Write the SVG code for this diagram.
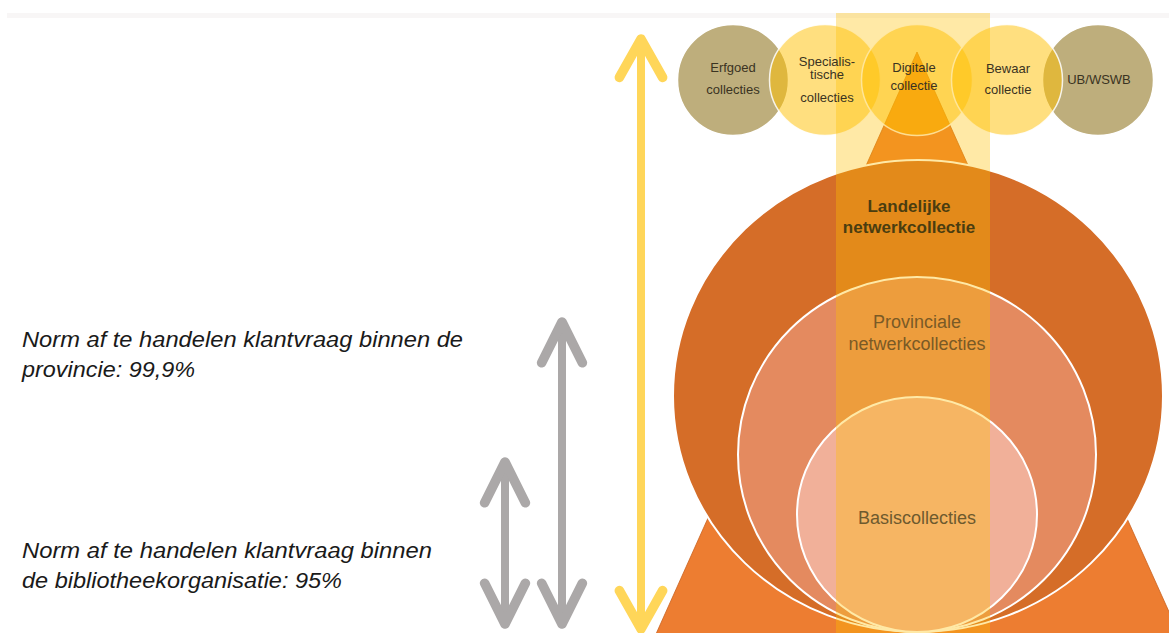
<svg xmlns="http://www.w3.org/2000/svg" width="1169" height="633" viewBox="0 0 1169 633">
  <style>
    .lbl { font-family: "Liberation Sans", Arial, sans-serif; text-anchor: middle; }
    .small { font-size: 13px; fill: #3a3322; }
    .norm { font-family: "Liberation Sans", Arial, sans-serif; font-style: italic; font-size: 22px; fill: #1a1a1a; }
    .olive { fill: #BEAE7C; stroke: #ffffff; stroke-width: 1.5; }
    .yel { fill: #FFC000; fill-opacity: 0.5; stroke: #ffffff; stroke-opacity: 0.85; stroke-width: 1.5; }
    .ring { stroke: #ffffff; stroke-width: 2; }
  </style>
  <defs>
    <marker id="headY" markerUnits="userSpaceOnUse" orient="auto-start-reverse" refX="0" refY="0" markerWidth="60" markerHeight="60" viewBox="-40 -25 50 50" overflow="visible">
      <path d="M-32,-18 L0,0 L-32,18" fill="none" stroke="#FFD659" stroke-width="8" stroke-linecap="round" stroke-linejoin="round"/>
    </marker>
    <marker id="headG" markerUnits="userSpaceOnUse" orient="auto-start-reverse" refX="0" refY="0" markerWidth="60" markerHeight="60" viewBox="-40 -25 50 50" overflow="visible">
      <path d="M-34,-17 L0,0 L-34,17" fill="none" stroke="#ABA8A8" stroke-width="8" stroke-linecap="round" stroke-linejoin="round"/>
    </marker>
  </defs>
  <rect x="0" y="0" width="1169" height="633" fill="#ffffff"/>
  <rect x="7" y="13" width="1162" height="5" fill="#F8F6F6"/>

  <g id="triangle">
    <polygon points="917,52 656,634 1179,634" fill="#ED7D31" stroke="#C9621F" stroke-width="0.8"/>
  </g>
  <g id="landelijke">
    <ellipse cx="918" cy="396" rx="245" ry="236" fill="#D56D28" class="ring"/>
  </g>
  <g id="provinciale">
    <ellipse cx="917" cy="454.5" rx="179" ry="177.5" fill="#E48A5F" class="ring"/>
  </g>
  <g id="basis">
    <ellipse cx="917" cy="514.5" rx="120" ry="117.5" fill="#F1B099" class="ring"/>
  </g>

  <g id="erfgoed"><circle cx="733" cy="80" r="55.5" class="olive"/></g>
  <g id="ubwswb"><circle cx="1098" cy="80" r="55.5" class="olive"/></g>
  <g id="specialistische"><circle cx="825" cy="80" r="55.5" class="yel"/></g>
  <g id="digitale"><circle cx="917" cy="80" r="55.5" class="yel"/></g>
  <g id="bewaar"><circle cx="1007" cy="80" r="55.5" class="yel"/></g>

  <g id="band">
    <rect x="836" y="13" width="154" height="620" fill="#FFC000" fill-opacity="0.35"/>
  </g>

  <g id="labels">
    <text class="lbl small" x="733" y="72">Erfgoed</text>
    <text class="lbl small" x="733" y="94">collecties</text>
    <text class="lbl small" x="827" y="66">Specialis-</text>
    <text class="lbl small" x="827" y="79">tische</text>
    <text class="lbl small" x="827" y="102">collecties</text>
    <text class="lbl small" x="914" y="72">Digitale</text>
    <text class="lbl small" x="914" y="90">collectie</text>
    <text class="lbl small" x="1008" y="73">Bewaar</text>
    <text class="lbl small" x="1008" y="94">collectie</text>
    <text class="lbl small" x="1099" y="84">UB/WSWB</text>
    <text class="lbl" x="909" y="212" font-size="17" font-weight="bold" fill="#4A3D10">Landelijke</text>
    <text class="lbl" x="909" y="233" font-size="17" font-weight="bold" fill="#4A3D10">netwerkcollectie</text>
    <text class="lbl" x="917" y="328" font-size="18" fill="#7A5A26">Provinciale</text>
    <text class="lbl" x="917" y="350" font-size="18" fill="#7A5A26">netwerkcollecties</text>
    <text class="lbl" x="917" y="524" font-size="18" fill="#6E5A2E">Basiscollecties</text>
  </g>

  <g id="norm-provincie">
    <text class="norm" x="22" y="347" textLength="441" lengthAdjust="spacingAndGlyphs">Norm af te handelen klantvraag binnen de</text>
    <text class="norm" x="22" y="377" textLength="173" lengthAdjust="spacingAndGlyphs">provincie: 99,9%</text>
  </g>
  <g id="norm-bibliotheek">
    <text class="norm" x="22" y="558" textLength="410" lengthAdjust="spacingAndGlyphs">Norm af te handelen klantvraag binnen</text>
    <text class="norm" x="22" y="588" textLength="320" lengthAdjust="spacingAndGlyphs">de bibliotheekorganisatie: 95%</text>
  </g>

  <g id="connectors" fill="none" stroke-linecap="round">
    <line x1="641" y1="629" x2="641" y2="39" stroke="#FFD659" stroke-width="8" marker-start="url(#headY)" marker-end="url(#headY)"/>
    <line x1="562" y1="624" x2="562" y2="322" stroke="#ABA8A8" stroke-width="8" marker-start="url(#headG)" marker-end="url(#headG)"/>
    <line x1="505" y1="624" x2="505" y2="462" stroke="#ABA8A8" stroke-width="8" marker-start="url(#headG)" marker-end="url(#headG)"/>
  </g>
</svg>
